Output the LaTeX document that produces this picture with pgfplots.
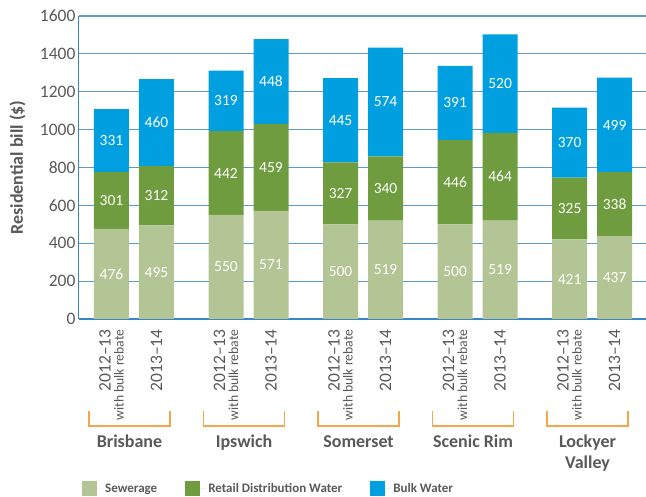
\documentclass[border=0pt]{standalone}
\usepackage{fontspec}
\setmainfont{Carlito}
\usepackage{pgfplots}
\pgfplotsset{compat=1.18}
\definecolor{sew}{HTML}{B3C595}
\definecolor{ret}{HTML}{6E9C3F}
\definecolor{bulk}{HTML}{00A0E0}
\definecolor{gridc}{HTML}{5B9BCF}
\definecolor{axc}{HTML}{3A86C2}
\definecolor{txt}{HTML}{595959}
\definecolor{brk}{HTML}{F5A54A}
\pgfplotsset{
  base/.style={
    at={(0,0)}, anchor=south west,
    scale only axis, width=567pt, height=303pt,
    xmin=-0.722, xmax=11.878, ymin=0, ymax=1600,
  }
}
\begin{document}
\begin{tikzpicture}[x=1pt,y=1pt]
\useasboundingbox (-79,-178) rectangle (567,319);
\begin{axis}[base,
  ybar stacked, bar width=35pt,
  clip=false,
  axis x line*=bottom, axis y line*=left,
  x axis line style={axc, line width=1.8pt},
  y axis line style={axc, line width=1pt},
  ymajorgrids, grid style={gridc, line width=1.2pt},
  major tick length=0pt,
  ytick={0,200,...,1600},
  /pgf/number format/assume math mode=true,
  /pgf/number format/1000 sep={},
  yticklabel style={font=\fontsize{17.5}{17.5}\selectfont, text=txt},
  xtick={0,1,2.545,3.545,5.09,6.09,7.635,8.635,10.18,11.18},
  xticklabels={
    {2012--13\\{\fontsize{13.7}{13.7}\selectfont with bulk rebate}},{2013--14},
    {2012--13\\{\fontsize{13.7}{13.7}\selectfont with bulk rebate}},{2013--14},
    {2012--13\\{\fontsize{13.7}{13.7}\selectfont with bulk rebate}},{2013--14},
    {2012--13\\{\fontsize{13.7}{13.7}\selectfont with bulk rebate}},{2013--14},
    {2012--13\\{\fontsize{13.7}{13.7}\selectfont with bulk rebate}},{2013--14}},
  xticklabel style={rotate=90, anchor=east, align=right,
    font=\fontsize{17.5}{13}\selectfont, text=txt, xshift=-7pt},
  ylabel={Residential bill (\$)},
  every axis y label/.style={at={(axis description cs:-0.1085,0.5)}, rotate=90, anchor=center,
    font=\bfseries\fontsize{18}{18}\selectfont, text=txt},
  legend image code/.code={\fill[#1] (0pt,-7.5pt) rectangle (15pt,7.5pt); \path (15pt,0pt) -- (21pt,0pt);},
  legend style={at={(axis description cs:0,-0.561)}, anchor=west, draw=none,
    fill=none, font=\bfseries\fontsize{13}{13}\selectfont, text=txt,
    legend columns=3,
    /tikz/every even column/.append style={column sep=26pt}},
]
\addplot[fill=sew, draw=none] coordinates {
  (0,476) (1,495) (2.545,550) (3.545,571) (5.09,500) (6.09,519)
  (7.635,500) (8.635,519) (10.18,421) (11.18,437)};
\addlegendentry{Sewerage}
\addplot[fill=ret, draw=none] coordinates {
  (0,301) (1,312) (2.545,442) (3.545,459) (5.09,327) (6.09,340)
  (7.635,446) (8.635,464) (10.18,325) (11.18,338)};
\addlegendentry{Retail Distribution Water}
\addplot[fill=bulk, draw=none] coordinates {
  (0,331) (1,460) (2.545,319) (3.545,448) (5.09,445) (6.09,574)
  (7.635,391) (8.635,520) (10.18,370) (11.18,499)};
\addlegendentry{Bulk Water}
\pgfplotsinvokeforeach{0,2.545,5.09,7.635,10.18}{
  \draw[brk, line width=1.3pt] (axis cs:#1-0.5,-486) -- (axis cs:#1-0.5,-565) -- (axis cs:#1+1.3,-565) -- (axis cs:#1+1.3,-486);
}
\node[anchor=base, font=\bfseries\fontsize{18}{18}\selectfont, text=txt] at (axis cs:0.4,-681) {Brisbane};
\node[anchor=base, font=\bfseries\fontsize{18}{18}\selectfont, text=txt] at (axis cs:2.945,-681) {Ipswich};
\node[anchor=base, font=\bfseries\fontsize{18}{18}\selectfont, text=txt] at (axis cs:5.49,-681) {Somerset};
\node[anchor=base, font=\bfseries\fontsize{18}{18}\selectfont, text=txt] at (axis cs:8.035,-681) {Scenic Rim};
\node[anchor=base, font=\bfseries\fontsize{18}{18}\selectfont, text=txt] at (axis cs:10.58,-681) {Lockyer};
\node[anchor=base, font=\bfseries\fontsize{18}{18}\selectfont, text=txt] at (axis cs:10.58,-787) {Valley};
\end{axis}
\begin{axis}[base, hide axis]
\addplot[draw=none, mark=none, nodes near coords, point meta=explicit symbolic,
  nodes near coords style={anchor=center, text=white, font=\fontsize{15.5}{15.5}\selectfont}]
  coordinates {
  (0,238) [476] (0,626.5) [301] (0,942.5) [331]
  (1,247.5) [495] (1,651) [312] (1,1037) [460]
  (2.545,275) [550] (2.545,771) [442] (2.545,1151.5) [319]
  (3.545,285.5) [571] (3.545,800.5) [459] (3.545,1254) [448]
  (5.09,250) [500] (5.09,663.5) [327] (5.09,1049.5) [445]
  (6.09,259.5) [519] (6.09,689) [340] (6.09,1146) [574]
  (7.635,250) [500] (7.635,723) [446] (7.635,1141.5) [391]
  (8.635,259.5) [519] (8.635,751) [464] (8.635,1243) [520]
  (10.18,210.5) [421] (10.18,583.5) [325] (10.18,931) [370]
  (11.18,218.5) [437] (11.18,606) [338] (11.18,1024.5) [499]
  };
\end{axis}
\end{tikzpicture}
\end{document}
